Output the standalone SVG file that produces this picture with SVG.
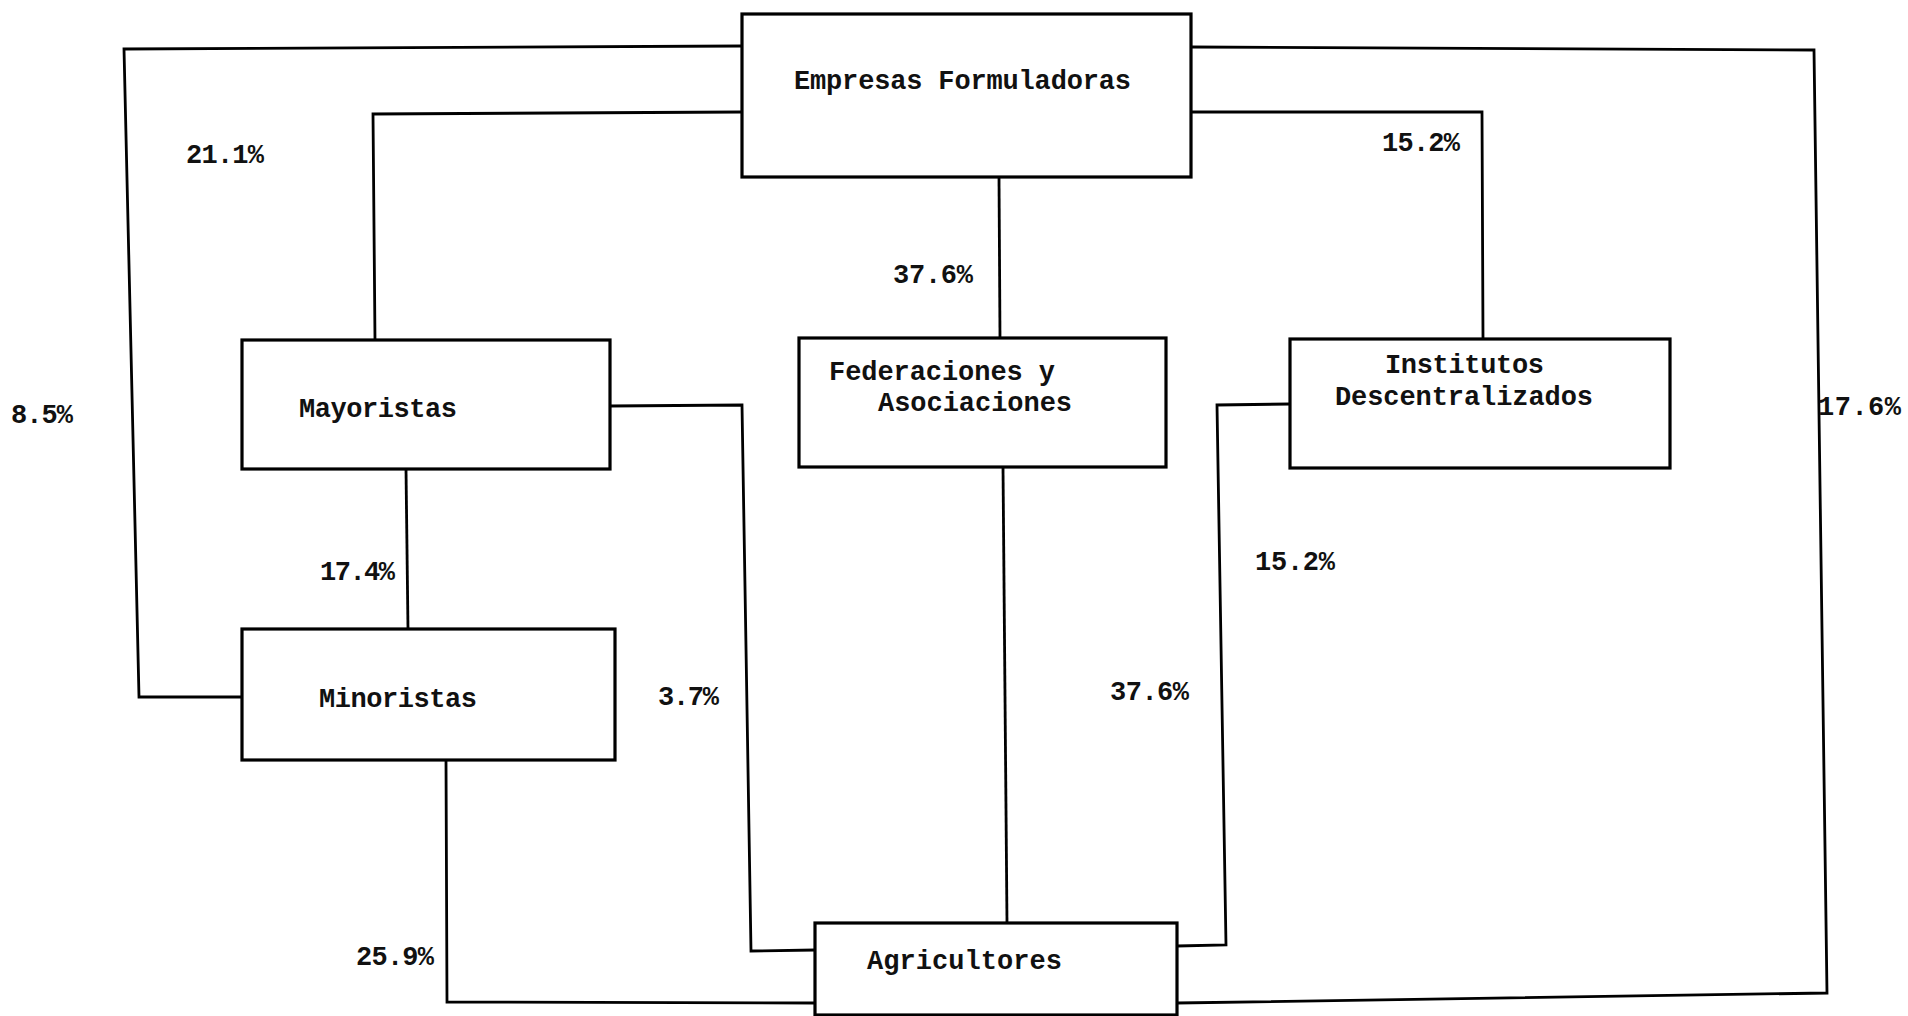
<svg xmlns="http://www.w3.org/2000/svg" width="1908" height="1016" viewBox="0 0 1908 1016">
<style>
.box{fill:#fff;stroke:#000;stroke-width:3.2}
.c{fill:none;stroke:#000;stroke-width:2.8;stroke-linejoin:miter}
.t{font-family:"Liberation Mono","Courier New",monospace;font-size:27px;font-weight:bold;fill:#111}
.p{font-family:"Liberation Mono","Courier New",monospace;font-size:27px;font-weight:bold;fill:#111}
</style>
<rect width="1908" height="1016" fill="#fff"/>
<g id="connectors">
<polyline class="c" points="742,46 124,49 139,697 242,697"/>
<polyline class="c" points="742,112 373,114 375,340"/>
<polyline class="c" points="999,177 1000,338"/>
<polyline class="c" points="1191,47 1814,50 1827,993 1177,1003"/>
<polyline class="c" points="1191,112 1482,112 1483,339"/>
<polyline class="c" points="610,406 742,405 751,951 815,950"/>
<polyline class="c" points="406,469 408,629"/>
<polyline class="c" points="446,760 447,1002 815,1003"/>
<polyline class="c" points="1003,467 1007,923"/>
<polyline class="c" points="1290,404 1217,405 1226,945 1177,946"/>
</g>
<g id="empresas"><rect class="box" x="742" y="14" width="449" height="163"/><text class="t" x="794" y="89" textLength="337">Empresas Formuladoras</text></g>
<g id="mayoristas"><rect class="box" x="242" y="340" width="368" height="129"/><text class="t" x="299" y="417" textLength="158">Mayoristas</text></g>
<g id="federaciones"><rect class="box" x="799" y="338" width="367" height="129"/><text class="t" x="829" y="380" textLength="226">Federaciones y</text><text class="t" x="878" y="411" textLength="194">Asociaciones</text></g>
<g id="institutos"><rect class="box" x="1290" y="339" width="380" height="129"/><text class="t" x="1385" y="373" textLength="159">Institutos</text><text class="t" x="1335" y="405" textLength="258">Descentralizados</text></g>
<g id="minoristas"><rect class="box" x="242" y="629" width="373" height="131"/><text class="t" x="319" y="707" textLength="158">Minoristas</text></g>
<g id="agricultores"><rect class="box" x="815" y="923" width="362" height="92"/><text class="t" x="867" y="969" textLength="195">Agricultores</text></g>
<g id="labels">
<text class="p" x="186" y="163" textLength="78">21.1%</text>
<text class="p" x="1382" y="151" textLength="78">15.2%</text>
<text class="p" x="893" y="283" textLength="80">37.6%</text>
<text class="p" x="11" y="423" textLength="62">8.5%</text>
<text class="p" x="1818" y="415" textLength="83">17.6%</text>
<text class="p" x="320" y="580" textLength="75">17.4%</text>
<text class="p" x="658" y="705" textLength="61">3.7%</text>
<text class="p" x="1110" y="700" textLength="79">37.6%</text>
<text class="p" x="1255" y="570" textLength="80">15.2%</text>
<text class="p" x="356" y="965" textLength="78">25.9%</text>
</g>
</svg>
